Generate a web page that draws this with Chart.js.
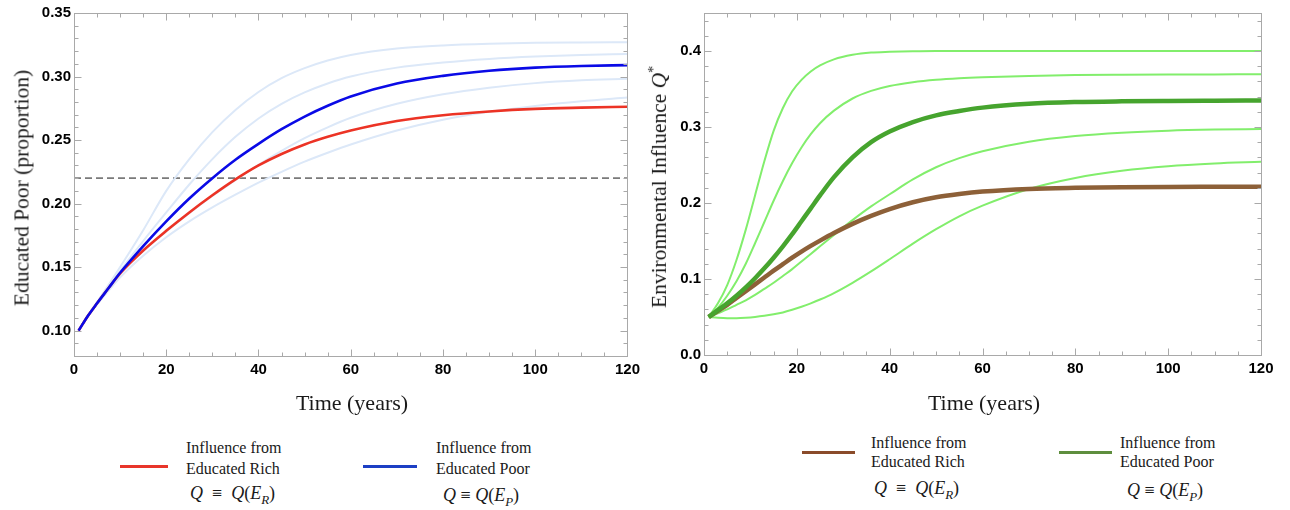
<!DOCTYPE html>
<html><head><meta charset="utf-8">
<script src="https://cdn.jsdelivr.net/npm/chart.js@4.4.0/dist/chart.umd.min.js"></script>
<style>
body{margin:0;background:#fff;width:1290px;height:510px;position:relative;overflow:hidden;font-family:"Liberation Serif",serif;}
.cv{position:absolute;top:0;width:645px;height:420px;}
.t{position:absolute;white-space:nowrap;color:#1a1a1a;}
.ytitle{transform:translate(-50%,-50%) rotate(-90deg);font-size:21.5px;}
.xtitle{transform:translate(-50%,-50%);font-size:22px;}
.leg{font-size:16px;line-height:21px;}
.form{font-size:18px;}
.ln{position:absolute;height:3px;}
</style>
</head><body>
<div class="cv" style="left:0"><canvas id="c1" width="645" height="420"></canvas></div>
<div class="cv" style="left:645px"><canvas id="c2" width="645" height="420"></canvas></div>

<div class="t ytitle" style="left:22px;top:188px">Educated Poor (proportion)</div>
<div class="t xtitle" style="left:352px;top:403px">Time (years)</div>
<div class="t ytitle" style="left:659px;top:187px">Environmental Influence <i>Q</i><sup style="font-size:14px">*</sup></div>
<div class="t xtitle" style="left:984px;top:403px">Time (years)</div>

<div class="ln" style="left:120px;top:465px;width:48px;background:#e8352a"></div>
<div class="t leg" style="left:186px;top:437px">Influence from<br>Educated Rich</div>
<div class="t form" style="left:190px;top:483px"><i>Q</i> &nbsp;≡&nbsp; <i>Q</i>(<i>E</i><sub style="font-size:13px"><i>R</i></sub>)</div>
<div class="ln" style="left:363px;top:465px;width:54px;background:#1c3fc4"></div>
<div class="t leg" style="left:436px;top:437px">Influence from<br>Educated Poor</div>
<div class="t form" style="left:443px;top:485px"><i>Q</i> ≡ <i>Q</i>(<i>E</i><sub style="font-size:13px"><i>P</i></sub>)</div>

<div class="ln" style="left:802px;top:451px;width:53px;background:#8a4b2a"></div>
<div class="t leg" style="left:871px;top:433px;line-height:19px">Influence from<br>Educated Rich</div>
<div class="t form" style="left:874px;top:478px"><i>Q</i> &nbsp;≡&nbsp; <i>Q</i>(<i>E</i><sub style="font-size:13px"><i>R</i></sub>)</div>
<div class="ln" style="left:1059px;top:451px;width:53px;background:#5e8e3e"></div>
<div class="t leg" style="left:1120px;top:433px;line-height:19px">Influence from<br>Educated Poor</div>
<div class="t form" style="left:1127px;top:480px"><i>Q</i> ≡ <i>Q</i>(<i>E</i><sub style="font-size:13px"><i>P</i></sub>)</div>

<script>
// ---------- data ----------
const X_TICKS = [0, 20, 40, 60, 80, 100, 120];
const Y_TICKS_LEFT = [0.10, 0.15, 0.20, 0.25, 0.30, 0.35];
const Y_TICKS_RIGHT = [0.0, 0.1, 0.2, 0.3, 0.4];
const THRESHOLD = 0.22;

// left panel: educated poor proportion
const T_LEFT = [1, 3, 5, 7.5, 10, 15, 20, 25, 30, 35, 40, 45, 50, 55, 60, 70, 80, 90, 100, 110, 120];
const EP_FROM_POOR = [0.100,0.1115,0.1215,0.1335,0.1455,0.1665,0.1860,0.2040,0.2200,0.2345,0.2470,0.2585,0.2685,0.2770,0.2843,0.2945,0.3005,0.3045,0.3070,0.3083,0.3090];
const EP_FROM_RICH = [0.100,0.1115,0.1215,0.1335,0.1450,0.1630,0.1785,0.1930,0.2065,0.2190,0.2300,0.2390,0.2465,0.2525,0.2575,0.2650,0.2695,0.2725,0.2745,0.2755,0.2762];
const EP_VAR_1 = [0.100,0.1120,0.1225,0.1360,0.1500,0.1790,0.2100,0.2350,0.2562,0.2737,0.2878,0.2987,0.3066,0.3126,0.3170,0.3220,0.3245,0.3258,0.3265,0.3268,0.3270];
const EP_VAR_2 = [0.100,0.1115,0.1220,0.1345,0.1470,0.1705,0.1930,0.2150,0.2350,0.2525,0.2670,0.2785,0.2875,0.2945,0.3000,0.3070,0.3110,0.3138,0.3157,0.3170,0.3178];
const EP_VAR_3 = [0.100,0.1115,0.1215,0.1335,0.1450,0.1625,0.1780,0.1925,0.2060,0.2185,0.2305,0.2415,0.2515,0.2600,0.2675,0.2785,0.2860,0.2912,0.2948,0.2970,0.2982];
const EP_VAR_4 = [0.100,0.1110,0.1205,0.1315,0.1420,0.1590,0.1735,0.1860,0.1970,0.2070,0.2165,0.2250,0.2330,0.2400,0.2465,0.2575,0.2660,0.2722,0.2768,0.2805,0.2835];

// right panel: environmental influence Q*
const T_RIGHT = [1,3,5,7,9,11,13,15,17,19,21,23,25,28,32,36,40,45,50,55,60,70,80,90,100,110,120];
const Q_FROM_POOR = [0.050,0.059,0.068,0.078,0.089,0.101,0.114,0.128,0.143,0.159,0.176,0.193,0.210,0.234,0.260,0.280,0.294,0.3065,0.3153,0.3210,0.3255,0.3305,0.3328,0.3338,0.3343,0.3346,0.3348];
const Q_FROM_RICH = [0.050,0.058,0.066,0.075,0.084,0.093,0.102,0.111,0.1195,0.128,0.136,0.1435,0.1505,0.1605,0.1725,0.1830,0.1920,0.2010,0.2075,0.2118,0.2150,0.2185,0.2200,0.2208,0.2212,0.2214,0.2215];
const Q_VAR_1 = [0.050,0.068,0.092,0.125,0.165,0.210,0.255,0.295,0.325,0.347,0.362,0.373,0.381,0.389,0.395,0.398,0.399,0.3997,0.400,0.400,0.400,0.400,0.400,0.400,0.400,0.400,0.400];
const Q_VAR_2 = [0.050,0.062,0.078,0.097,0.120,0.147,0.175,0.203,0.229,0.2525,0.2730,0.2905,0.3050,0.3215,0.3375,0.3475,0.3540,0.3590,0.3622,0.3642,0.3655,0.3672,0.3683,0.3688,0.3691,0.3692,0.3693];
const Q_VAR_3 = [0.050,0.055,0.060,0.066,0.072,0.079,0.087,0.095,0.104,0.113,0.123,0.133,0.143,0.158,0.1775,0.1955,0.2115,0.231,0.247,0.259,0.268,0.2805,0.2880,0.2925,0.2952,0.2966,0.2973];
const Q_VAR_4 = [0.050,0.049,0.0485,0.0485,0.049,0.050,0.0515,0.0535,0.056,0.0595,0.0635,0.068,0.073,0.0815,0.095,0.110,0.126,0.1465,0.1655,0.1825,0.1965,0.2185,0.2330,0.2425,0.2485,0.2520,0.2542];

// ---------- helpers ----------
const pts = (xs, ys) => xs.map((x, i) => ({x, y: ys[i]}));
const line = (data, color, width, extra) => Object.assign({
  data, borderColor: color, borderWidth: width, pointRadius: 0,
  cubicInterpolationMode: 'monotone', fill: false
}, extra || {});

const frameTicks = {
  id: 'frameTicks',
  afterDraw(chart, args, o) {
    const {ctx, chartArea: a, scales: {x, y}} = chart;
    ctx.save();
    ctx.strokeStyle = '#a9a9a9';
    ctx.lineWidth = 1;
    const seg = (x1, y1, x2, y2) => { ctx.beginPath(); ctx.moveTo(x1, y1); ctx.lineTo(x2, y2); ctx.stroke(); };
    const L = Math.round(a.left) + 0.5, R = Math.round(a.right) + 0.5;
    const T = Math.round(a.top) + 0.5, B = Math.round(a.bottom) + 0.5;
    ctx.strokeRect(L, T, R - L, B - T);
    for (let i = 0; ; i++) {
      const v = x.min + i * o.xMinor;
      if (v > x.max + 1e-9) break;
      const major = Math.abs(v / o.xMajor - Math.round(v / o.xMajor)) < 1e-6;
      const len = major ? 7 : 4;
      const px = Math.round(x.getPixelForValue(v)) + 0.5;
      seg(px, B, px, B - len); seg(px, T, px, T + len);
    }
    const start = Math.ceil(y.min / o.yMinor - 1e-6);
    for (let i = start; ; i++) {
      const v = i * o.yMinor;
      if (v > y.max + 1e-9) break;
      const major = Math.abs(v / o.yMajor - Math.round(v / o.yMajor)) < 1e-6;
      const len = major ? 7 : 4;
      const py = Math.round(y.getPixelForValue(v)) + 0.5;
      seg(L, py, L + len, py); seg(R, py, R - len, py);
    }
    ctx.restore();
  }
};

const tickFont = {family: '"Liberation Sans", Arial, sans-serif', size: 15, weight: 'bold'};

function makeOptions(yMin, yMax, yTicks, digits, pad, yW, xH, fr) {
  return {
    responsive: false, animation: false, devicePixelRatio: 1,
    layout: {padding: pad},
    plugins: {legend: {display: false}, tooltip: {enabled: false}, frameTicks: fr},
    scales: {
      x: {
        type: 'linear', min: 0, max: 120,
        grid: {display: false, drawTicks: false}, border: {display: false},
        afterBuildTicks: s => { s.ticks = X_TICKS.map(v => ({value: v})); },
        afterFit: s => { s.height = xH; },
        ticks: {font: tickFont, color: '#000', padding: 5, maxRotation: 0, autoSkip: false,
                callback: v => String(v)}
      },
      y: {
        type: 'linear', min: yMin, max: yMax,
        grid: {display: false, drawTicks: false}, border: {display: false},
        afterBuildTicks: s => { s.ticks = yTicks.map(v => ({value: v})); },
        afterFit: s => { s.width = yW; },
        ticks: {font: tickFont, color: '#000', padding: 3, autoSkip: false,
                callback: v => Number(v).toFixed(digits)}
      }
    }
  };
}

const LIGHT_BLUE = '#dce8f8';
new Chart(document.getElementById('c1'), {
  type: 'line',
  data: {datasets: [
    line(pts(T_LEFT, EP_FROM_POOR), '#0a0ae6', 2.6),
    line(pts(T_LEFT, EP_FROM_RICH), '#ec3325', 2.6),
    line(pts(T_LEFT, EP_VAR_1), LIGHT_BLUE, 2),
    line(pts(T_LEFT, EP_VAR_2), LIGHT_BLUE, 2),
    line(pts(T_LEFT, EP_VAR_3), LIGHT_BLUE, 2),
    line(pts(T_LEFT, EP_VAR_4), LIGHT_BLUE, 2),
    line(pts([0, 120], [THRESHOLD, THRESHOLD]), '#7a7a7a', 1.6, {borderDash: [7, 4], cubicInterpolationMode: 'default', tension: 0})
  ]},
  options: makeOptions(0.08, 0.35, Y_TICKS_LEFT, 2, {left: 0, right: 16, top: 13, bottom: 0}, 74, 64,
    {xMinor: 5, xMajor: 20, yMinor: 0.01, yMajor: 0.05}),
  plugins: [frameTicks]
});

const LIGHT_GREEN = '#82ee6c';
new Chart(document.getElementById('c2'), {
  type: 'line',
  data: {datasets: [
    line(pts(T_RIGHT, Q_FROM_POOR), '#46a42e', 4.5),
    line(pts(T_RIGHT, Q_FROM_RICH), '#8d6038', 4.5),
    line(pts(T_RIGHT, Q_VAR_1), LIGHT_GREEN, 2),
    line(pts(T_RIGHT, Q_VAR_2), LIGHT_GREEN, 2),
    line(pts(T_RIGHT, Q_VAR_3), LIGHT_GREEN, 2),
    line(pts(T_RIGHT, Q_VAR_4), LIGHT_GREEN, 2)
  ]},
  options: makeOptions(0, 0.45, Y_TICKS_RIGHT, 1, {left: 0, right: 29, top: 13, bottom: 0}, 59, 65,
    {xMinor: 5, xMajor: 20, yMinor: 0.02, yMajor: 0.1}),
  plugins: [frameTicks]
});
</script>
</body></html>
